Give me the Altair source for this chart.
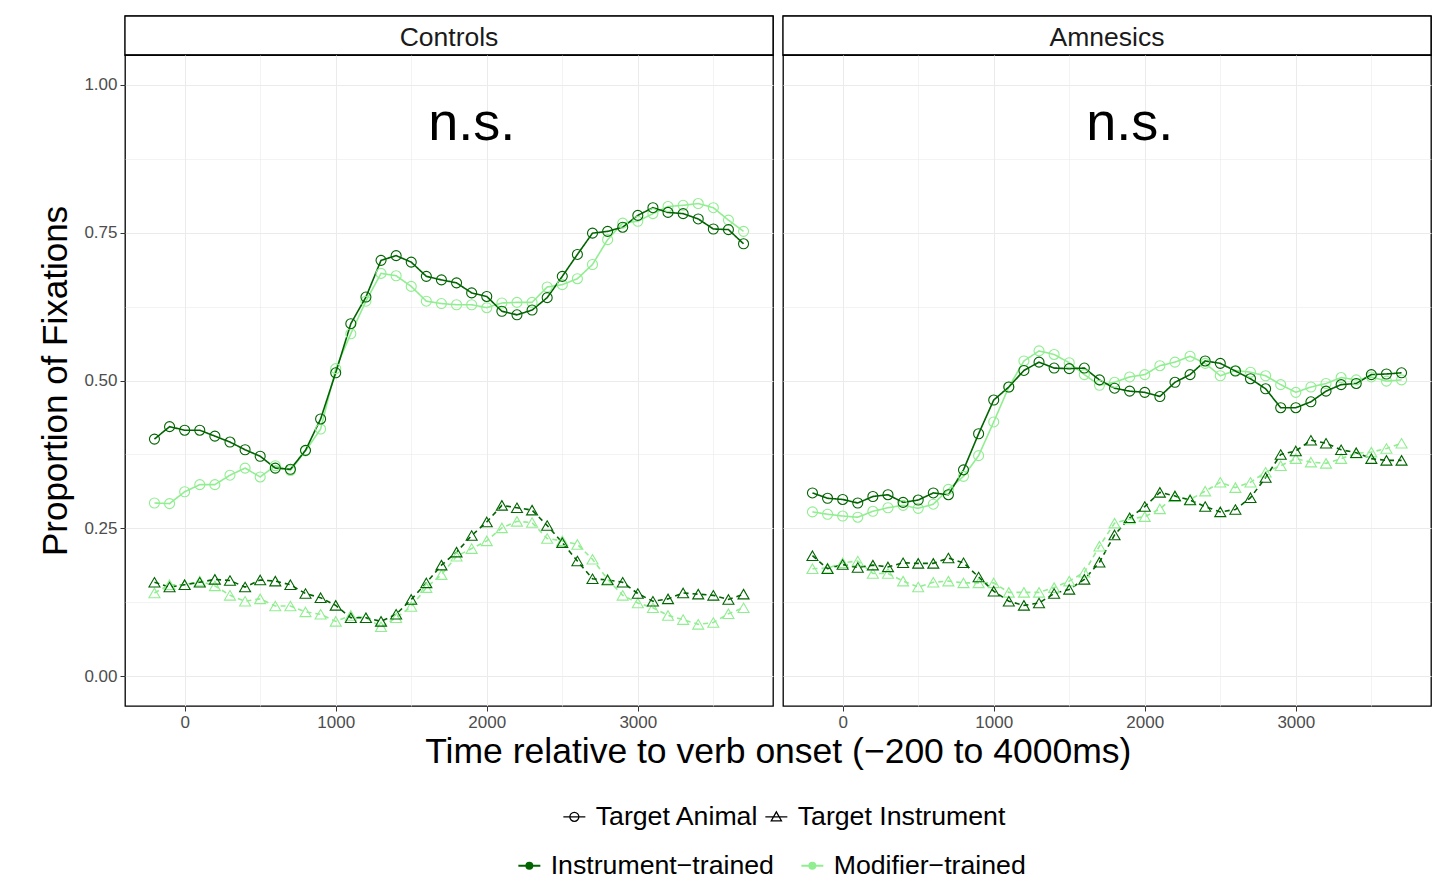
import altair as alt
import pandas as pd

FONT = "Liberation Sans"

times = list(range(-200, 3800, 100))
groups = ["Controls", "Amnesics"]
targets = ["Target Animal", "Target Instrument"]
trainings = ["Instrument\u2212trained", "Modifier\u2212trained"]
train_colors = ["#006400", "#90EE90"]

ctrl_animal_instr = [0.401, 0.422, 0.416, 0.416, 0.406, 0.396, 0.383, 0.372, 0.352, 0.350,
                     0.382, 0.435, 0.513, 0.596, 0.641, 0.703, 0.711, 0.700, 0.676, 0.670,
                     0.665, 0.648, 0.642, 0.617, 0.611, 0.619, 0.640, 0.676, 0.713, 0.749,
                     0.752, 0.759, 0.779, 0.792, 0.784, 0.782, 0.773, 0.756, 0.755, 0.731]
ctrl_animal_mod = [0.293, 0.292, 0.312, 0.324, 0.324, 0.340, 0.352, 0.337, 0.356, 0.348,
                   0.381, 0.418, 0.520, 0.579, 0.634, 0.681, 0.677, 0.659, 0.634, 0.630,
                   0.628, 0.628, 0.623, 0.631, 0.632, 0.632, 0.658, 0.662, 0.672, 0.696,
                   0.738, 0.766, 0.769, 0.782, 0.794, 0.796, 0.799, 0.792, 0.771, 0.752]
ctrl_inst_instr = [0.159, 0.151, 0.155, 0.159, 0.164, 0.162, 0.151, 0.163, 0.161, 0.155,
                   0.140, 0.133, 0.120, 0.099, 0.099, 0.093, 0.105, 0.130, 0.158, 0.188,
                   0.210, 0.238, 0.261, 0.289, 0.285, 0.281, 0.255, 0.226, 0.195, 0.165,
                   0.163, 0.159, 0.140, 0.127, 0.131, 0.141, 0.139, 0.137, 0.130, 0.139]
ctrl_inst_mod = [0.141, 0.155, 0.155, 0.161, 0.153, 0.137, 0.127, 0.131, 0.119, 0.119,
                 0.109, 0.105, 0.093, 0.103, 0.099, 0.084, 0.099, 0.118, 0.150, 0.172,
                 0.203, 0.216, 0.229, 0.251, 0.262, 0.260, 0.233, 0.229, 0.223, 0.198,
                 0.164, 0.137, 0.124, 0.116, 0.103, 0.096, 0.088, 0.091, 0.106, 0.116]
amn_animal_instr = [0.310, 0.301, 0.299, 0.293, 0.304, 0.307, 0.294, 0.298, 0.310, 0.307,
                    0.349, 0.410, 0.467, 0.489, 0.517, 0.531, 0.521, 0.520, 0.521, 0.501,
                    0.487, 0.482, 0.480, 0.473, 0.497, 0.510, 0.533, 0.529, 0.516, 0.503,
                    0.486, 0.454, 0.454, 0.464, 0.482, 0.493, 0.495, 0.510, 0.511, 0.513]
amn_animal_mod = [0.278, 0.274, 0.271, 0.269, 0.279, 0.285, 0.289, 0.284, 0.291, 0.316,
                  0.338, 0.373, 0.430, 0.489, 0.533, 0.550, 0.544, 0.530, 0.510, 0.492,
                  0.497, 0.506, 0.510, 0.525, 0.531, 0.541, 0.529, 0.508, 0.517, 0.514,
                  0.508, 0.493, 0.480, 0.489, 0.495, 0.505, 0.501, 0.506, 0.499, 0.501]
amn_inst_instr = [0.204, 0.182, 0.189, 0.184, 0.188, 0.185, 0.192, 0.191, 0.191, 0.200,
                  0.192, 0.168, 0.144, 0.127, 0.120, 0.124, 0.140, 0.147, 0.164, 0.193,
                  0.239, 0.268, 0.287, 0.311, 0.305, 0.298, 0.287, 0.278, 0.282, 0.302,
                  0.336, 0.375, 0.381, 0.399, 0.394, 0.383, 0.378, 0.368, 0.365, 0.365]
amn_inst_mod = [0.182, 0.183, 0.192, 0.195, 0.174, 0.174, 0.161, 0.151, 0.159, 0.161,
                0.158, 0.158, 0.158, 0.142, 0.142, 0.142, 0.150, 0.161, 0.176, 0.220,
                0.259, 0.266, 0.270, 0.283, 0.304, 0.299, 0.313, 0.328, 0.319, 0.328,
                0.345, 0.356, 0.368, 0.362, 0.360, 0.368, 0.377, 0.379, 0.385, 0.394]

annot_x = [1900, 1900]
annot_y = [0.933, 0.933]
annot_text = ["n.s.", "n.s."]

x_title = "Time relative to verb onset (\u2212200 to 4000ms)"
y_title = "Proportion of Fixations"

# ---- long table (Modifier-trained first so dark series draw on top)
series = [
    ("Controls", targets[0], trainings[1], ctrl_animal_mod),
    ("Controls", targets[1], trainings[1], ctrl_inst_mod),
    ("Amnesics", targets[0], trainings[1], amn_animal_mod),
    ("Amnesics", targets[1], trainings[1], amn_inst_mod),
    ("Controls", targets[0], trainings[0], ctrl_animal_instr),
    ("Controls", targets[1], trainings[0], ctrl_inst_instr),
    ("Amnesics", targets[0], trainings[0], amn_animal_instr),
    ("Amnesics", targets[1], trainings[0], amn_inst_instr),
]
rows = []
for g, tg, tr, vals in series:
    for t, v in zip(times, vals):
        rows.append({"group": g, "target": tg, "training": tr, "time": t, "prop": v,
                     "series": tg + "|" + tr})
df = pd.DataFrame(rows)
ann_df = pd.DataFrame({"group": groups, "x": annot_x, "y": annot_y, "label": annot_text})
strip_df = pd.DataFrame({"group": groups})

W, H, SH = 648, 651, 39
x_scale = alt.Scale(domain=[-395, 3895], nice=False, zero=False)
y_scale = alt.Scale(domain=[-0.05, 1.05], nice=False, zero=False)
color_scale = alt.Scale(domain=trainings, range=train_colors)
tri_mark = "M0,-0.95L1.1,0.95L-1.1,0.95Z"
shape_scale = alt.Scale(domain=targets, range=["circle", tri_mark])
dash_scale = alt.Scale(domain=targets, range=[[1, 0], [5, 4]])

x_grid_vals = [0, 500, 1000, 1500, 2000, 2500, 3000, 3500]
y_grid_vals = [0, 0.125, 0.25, 0.375, 0.5, 0.625, 0.75, 0.875, 1.0]

x_major = "datum.value % 1000 === 0"
y_major = "abs(datum.value * 4 - round(datum.value * 4)) < 0.001"


def x_axis():
    return alt.Axis(values=x_grid_vals, format="d", title=None, domain=False,
                    labelExpr="datum.value % 1000 === 0 ? datum.label : ''",
                    tickOpacity={"condition": {"test": x_major, "value": 1}, "value": 0},
                    gridWidth={"condition": {"test": x_major, "value": 1.0}, "value": 0.6},
                    grid=True, gridColor="#ebebeb", tickSize=5, tickColor="#333333",
                    labelFontSize=17, labelColor="#4d4d4d", labelFont=FONT, labelPadding=3)


def y_axis(first):
    if first:
        return alt.Axis(values=y_grid_vals, title=y_title, domain=False,
                        labelExpr=y_major + " ? format(datum.value, '.2f') : ''",
                        tickOpacity={"condition": {"test": y_major, "value": 1}, "value": 0},
                        gridWidth={"condition": {"test": y_major, "value": 1.0}, "value": 0.6},
                        grid=True, gridColor="#ebebeb", tickSize=5, tickColor="#333333",
                        labelFontSize=17, labelColor="#4d4d4d", labelFont=FONT, labelPadding=3,
                        titleFontSize=35, titleFont=FONT, titleFontWeight="normal",
                        titleColor="black", titlePadding=10)
    return alt.Axis(values=y_grid_vals, title=None, domain=False, labels=False, ticks=False,
                    gridWidth={"condition": {"test": y_major, "value": 1.0}, "value": 0.6},
                    grid=True, gridColor="#ebebeb")


def panel(g, first):
    base = alt.Chart(df).transform_filter(alt.datum.group == g)
    enc_x = alt.X("time:Q", scale=x_scale, axis=x_axis())
    enc_y = alt.Y("prop:Q", scale=y_scale, axis=y_axis(first))
    lines = base.mark_line(strokeWidth=1.6).encode(
        x=enc_x, y=enc_y,
        color=alt.Color("training:N", scale=color_scale, legend=None),
        strokeDash=alt.StrokeDash("target:N", scale=dash_scale, legend=None),
        detail="series:N",
    )
    points = base.mark_point(filled=False, size=100, strokeWidth=1.1, opacity=1).encode(
        x=enc_x, y=enc_y,
        color=alt.Color("training:N", scale=color_scale, legend=None),
        shape=alt.Shape("target:N", scale=shape_scale, legend=None),
    )
    ann = alt.Chart(ann_df).transform_filter(alt.datum.group == g).mark_text(
        fontSize=54, font=FONT, color="black", baseline="middle", align="center"
    ).encode(
        x=alt.X("x:Q", scale=x_scale),
        y=alt.Y("y:Q", scale=y_scale),
        text="label:N",
    )
    plot = alt.layer(lines, points, ann).properties(width=W, height=H)
    sbase = alt.Chart(strip_df).transform_filter(alt.datum.group == g)
    box = sbase.mark_rect(fill="white", stroke="black", strokeWidth=1.3).encode(
        x=alt.value(0), x2=alt.value(W), y=alt.value(0), y2=alt.value(SH))
    label = sbase.mark_text(
        fontSize=26.5, font=FONT, color="#1a1a1a", baseline="middle", align="center", dy=2
    ).encode(text="group:N")
    strip = alt.layer(box, label).properties(width=W, height=SH)
    return alt.vconcat(strip, plot, spacing=0, bounds="flush")


panels = alt.hconcat(panel("Controls", True), panel("Amnesics", False), spacing=6).properties(
    title=alt.TitleParams(text=x_title, orient="bottom", anchor="middle", fontSize=35.5,
                          font=FONT, fontWeight="normal", color="black", offset=4, dx=43)
)

circle_path = "M-1,0L1,0M-0.41,0A0.41,0.41,0,1,0,0.41,0A0.41,0.41,0,1,0,-0.41,0Z"
tri_path = "M-1,0L1,0M0,-0.45L0.46,0.36L-0.46,0.36Z"
dot_path = ("M-1,0L1,0M-0.27,0A0.27,0.27,0,1,0,0.27,0A0.27,0.27,0,1,0,-0.27,0Z"
            "M-0.12,0A0.12,0.12,0,1,0,0.12,0A0.12,0.12,0,1,0,-0.12,0Z")

legend_chart = alt.Chart(df).transform_filter("false").mark_point(filled=False, strokeWidth=1.5).encode(
    shape=alt.Shape("target:N", scale=alt.Scale(domain=targets, range=[circle_path, tri_path]),
                    legend=alt.Legend(orient="none", legendX=436, legendY=32, direction="horizontal",
                                      title=None, labelFontSize=26.7, labelFont=FONT, labelColor="black",
                                      labelLimit=500, symbolSize=484, symbolStrokeColor="black",
                                      symbolStrokeWidth=1.3, symbolOpacity=1,
                                      labelOffset=8, columnPadding=3)),
    color=alt.Color("training:N", scale=alt.Scale(domain=trainings, range=train_colors),
                    legend=alt.Legend(orient="none", legendX=391, legendY=81, direction="horizontal",
                                      title=None, labelFontSize=26.7, labelFont=FONT, labelColor="black",
                                      labelLimit=500, symbolSize=484, symbolType=dot_path,
                                      symbolStrokeWidth=2, symbolOpacity=1,
                                      labelOffset=8, columnPadding=23)),
).properties(width=1300, height=1, view=alt.ViewBackground(stroke=None))

chart = alt.vconcat(panels, legend_chart, spacing=0).resolve_scale(
    color="independent", shape="independent", strokeDash="independent"
).properties(
    padding={"left": 30, "top": 6, "right": 5, "bottom": 0}
).configure_view(stroke="black", strokeWidth=1.3).configure_legend(
    symbolLimit=0
)

chart.save("out.html", embed_options={"renderer": "svg", "actions": False})
